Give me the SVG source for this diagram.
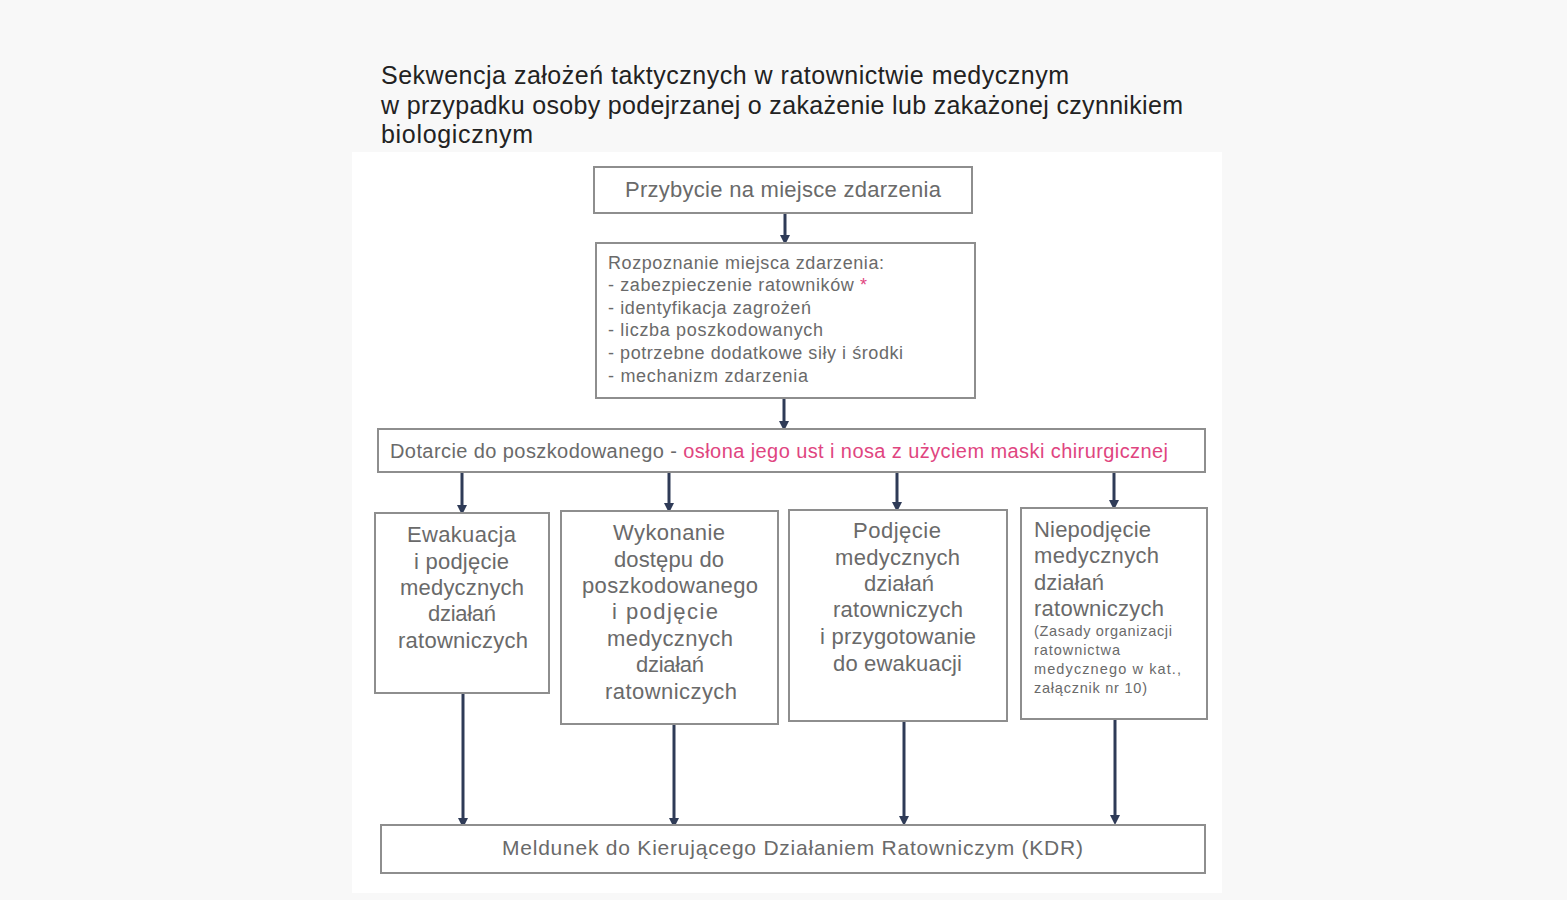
<svg xmlns="http://www.w3.org/2000/svg" width="1567" height="900" viewBox="0 0 1567 900">
<style>
.box{fill:#fff;stroke:#8e8e8e;stroke-width:2}
.t{font-family:"Liberation Sans",Arial,sans-serif;fill:#6a6a6a}
.big{font-size:22px}
.med{font-size:18px}
.sm{font-size:14.5px}
.title{font-family:"Liberation Sans",Arial,sans-serif;font-size:25px;fill:#222}
.conn line{stroke:#2f3b57;stroke-width:3;marker-end:url(#ah)}
</style>
<defs>
<marker id="ah" markerWidth="10" markerHeight="10" refX="5" refY="5" orient="auto" markerUnits="userSpaceOnUse">
<path d="M0,0 L10,5 L0,10 z" fill="#2f3b57"/>
</marker>
</defs>
<rect width="1567" height="900" fill="#f8f8f8"/>
<rect x="352" y="152" width="870" height="741" fill="#fff"/>
<g id="title">
<text class="title" x="381" y="84" textLength="688">Sekwencja założeń taktycznych w ratownictwie medycznym</text>
<text class="title" x="381" y="114" textLength="802">w przypadku osoby podejrzanej o zakażenie lub zakażonej czynnikiem</text>
<text class="title" x="381" y="143" textLength="152">biologicznym</text>
</g>
<g class="conn" id="connectors">
<line x1="785" y1="213" x2="785" y2="240"/>
<line x1="784" y1="398" x2="784" y2="426"/>
<line x1="462" y1="472" x2="462" y2="510"/>
<line x1="669" y1="472" x2="669" y2="508"/>
<line x1="897" y1="472" x2="897" y2="507"/>
<line x1="1114" y1="472" x2="1114" y2="505"/>
<line x1="463" y1="693" x2="463" y2="823"/>
<line x1="674" y1="724" x2="674" y2="823"/>
<line x1="904" y1="721" x2="904" y2="821"/>
<line x1="1115" y1="719" x2="1115" y2="820"/>
</g>
<g id="n1">
<rect class="box" x="594" y="167" width="378" height="46"/>
<text class="t big" x="625" y="197" textLength="316">Przybycie na miejsce zdarzenia</text>
</g>
<g id="n2">
<rect class="box" x="596" y="243" width="379" height="155"/>
<text class="t med" x="608" y="269" textLength="276">Rozpoznanie miejsca zdarzenia:</text>
<text class="t med" x="608" y="291" textLength="259">- zabezpieczenie ratowników <tspan fill="#e0457f">*</tspan></text>
<text class="t med" x="608" y="314" textLength="203">- identyfikacja zagrożeń</text>
<text class="t med" x="608" y="336" textLength="215">- liczba poszkodowanych</text>
<text class="t med" x="608" y="359" textLength="295">- potrzebne dodatkowe siły i środki</text>
<text class="t med" x="608" y="382" textLength="200">- mechanizm zdarzenia</text>
</g>
<g id="n3">
<rect class="box" x="378" y="429" width="827" height="43"/>
<text class="t" x="390" y="458" font-size="20" textLength="778">Dotarcie do poszkodowanego - <tspan fill="#e0457f">osłona jego ust i nosa z użyciem maski chirurgicznej</tspan></text>
</g>
<g id="n4">
<rect class="box" x="375" y="513" width="174" height="180"/>
<text class="t big" x="407" y="542" textLength="109">Ewakuacja</text>
<text class="t big" x="414" y="569" textLength="95">i podjęcie</text>
<text class="t big" x="400" y="595" textLength="124">medycznych</text>
<text class="t big" x="428" y="621" textLength="68">działań</text>
<text class="t big" x="398" y="648" textLength="130">ratowniczych</text>
</g>
<g id="n5">
<rect class="box" x="561" y="511" width="217" height="213"/>
<text class="t big" x="613" y="540" textLength="112">Wykonanie</text>
<text class="t big" x="614" y="567" textLength="110">dostępu do</text>
<text class="t big" x="582" y="593" textLength="176">poszkodowanego</text>
<text class="t big" x="612" y="619" textLength="106">i podjęcie</text>
<text class="t big" x="607" y="646" textLength="126">medycznych</text>
<text class="t big" x="636" y="672" textLength="68">działań</text>
<text class="t big" x="605" y="699" textLength="132">ratowniczych</text>
</g>
<g id="n6">
<rect class="box" x="789" y="510" width="218" height="211"/>
<text class="t big" x="853" y="538" textLength="88">Podjęcie</text>
<text class="t big" x="835" y="565" textLength="125">medycznych</text>
<text class="t big" x="864" y="591" textLength="70">działań</text>
<text class="t big" x="833" y="617" textLength="130">ratowniczych</text>
<text class="t big" x="820" y="644" textLength="156">i przygotowanie</text>
<text class="t big" x="833" y="671" textLength="129">do ewakuacji</text>
</g>
<g id="n7">
<rect class="box" x="1021" y="508" width="186" height="211"/>
<text class="t big" x="1034" y="537" textLength="117">Niepodjęcie</text>
<text class="t big" x="1034" y="563" textLength="125">medycznych</text>
<text class="t big" x="1034" y="590" textLength="70">działań</text>
<text class="t big" x="1034" y="616" textLength="130">ratowniczych</text>
<text class="t sm" x="1034" y="636" textLength="138">(Zasady organizacji</text>
<text class="t sm" x="1034" y="655" textLength="86">ratownictwa</text>
<text class="t sm" x="1034" y="674" textLength="147">medycznego w kat.,</text>
<text class="t sm" x="1034" y="693" textLength="113">załącznik nr 10)</text>
</g>
<g id="n8">
<rect class="box" x="381" y="825" width="824" height="48"/>
<text class="t" x="502" y="855" font-size="21" textLength="581">Meldunek do Kierującego Działaniem Ratowniczym (KDR)</text>
</g>
</svg>
